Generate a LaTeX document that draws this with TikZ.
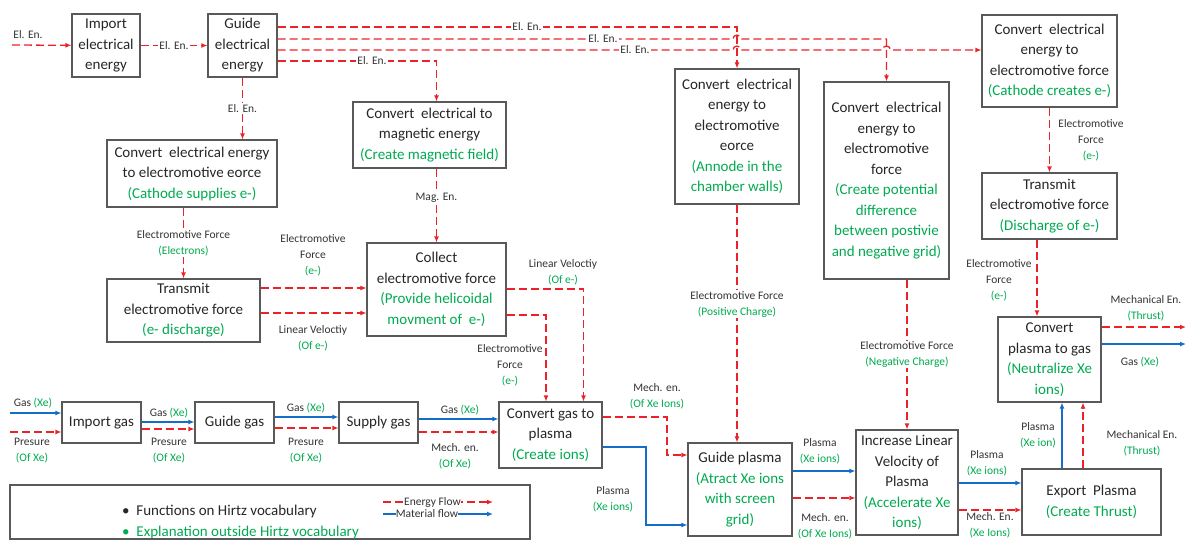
\documentclass[tikz,border=0pt]{standalone}
\usepackage{fontspec}
\setmainfont{Carlito}
\usepackage{tikz}
\usetikzlibrary{calc}
\usetikzlibrary{arrows.meta}

\definecolor{hred}{RGB}{235,35,40}
\definecolor{hblue}{RGB}{20,110,200}
\definecolor{hgreen}{RGB}{0,170,80}
\newcommand{\grn}[1]{\textcolor{hgreen}{#1}}

\tikzset{
  fbox/.style={draw=black!65, line width=1.1pt, align=center, inner sep=2pt, text=black!85, font=\fontsize{15}{20.5}\selectfont},
  enflow/.style={draw=hred, line width=1.3pt, dash pattern=on 8pt off 4pt, -{Latex[length=6pt,width=5pt]}},
  matflow/.style={draw=hblue, line width=1.3pt, -{Latex[length=6pt,width=5pt]}},
  lbl/.style={align=center, inner sep=1pt, text=black!80, font=\fontsize{11.5}{16}\selectfont},
}

\begin{document}
\begin{tikzpicture}[x=1pt,y=-1pt]

			% 固定画布大小
			\useasboundingbox (0,0) rectangle (1189,541);

			% 绘制功能框
			\node[fbox, minimum width=68, minimum height=63] (iee) at (106,45.5) {Import\\electrical\\energy};
			\node[fbox, minimum width=69, minimum height=63] (gee) at (242.5,45.5) {Guide\\electrical\\energy};
			\node[fbox, minimum width=170, minimum height=67] (cse) at (192,173.5) {Convert\ \ electrical energy\\to electromotive eorce\\\grn{(Cathode supplies e-)}};
			\node[fbox, minimum width=153, minimum height=63] (tef) at (183.5,310.5) {Transmit\\electromotive force\\\grn{(e- discharge)}};
			\node[fbox, minimum width=153, minimum height=66] (cme) at (429.5,135) {Convert\ \ electrical to\\magnetic energy\\\grn{(Create magnetic field)}};
			\node[fbox, minimum width=139, minimum height=93] (cef) at (436.5,289.5) {Collect\\electromotive force\\\grn{(Provide helicoidal}\\\grn{movment of\ \ e-)}};
			\node[fbox, minimum width=124, minimum height=135] (ane) at (737,136.5) {Convert\ \ electrical\\energy to\\electromotive\\eorce\\\grn{(Annode in the}\\\grn{chamber walls)}};
			\node[fbox, minimum width=125, minimum height=197] (cpd) at (886.5,180.5) {Convert\ \ electrical\\energy to\\electromotive\\force\\\grn{(Create potential}\\\grn{difference}\\\grn{between postivie}\\\grn{and negative grid)}};
			\node[fbox, minimum width=135, minimum height=92] (cce) at (1049.5,61) {Convert\ \ electrical\\energy to\\electromotive force\\\grn{(Cathode creates e-)}};
			\node[fbox, minimum width=135, minimum height=66] (tde) at (1049.5,206) {Transmit\\electromotive force\\\grn{(Discharge of e-)}};
			\node[fbox, minimum width=103, minimum height=85] (cpg) at (1049.5,359.5) {Convert\\plasma to gas\\\grn{(Neutralize Xe}\\\grn{ions)}};
			\node[fbox, minimum width=102, minimum height=105] (ilv) at (907,482.5) {Increase Linear\\Velocity of\\Plasma\\\grn{(Accelerate Xe}\\\grn{ions)}};
			\node[fbox, minimum width=139, minimum height=66] (exp) at (1091.5,502) {Export\ \ Plasma\\\grn{(Create Thrust)}};
			\node[fbox, minimum width=104, minimum height=93] (gpl) at (740,489.5) {Guide plasma\\\grn{(Atract Xe ions}\\\grn{with screen}\\\grn{grid)}};
			\node[fbox, minimum width=103, minimum height=66] (cgp) at (550.5,435) {Convert gas to\\plasma\\\grn{(Create ions)}};
			\node[fbox, minimum width=79, minimum height=41] (sgs) at (378.5,422.5) {Supply gas};
			\node[fbox, minimum width=79, minimum height=41] (ggs) at (234.5,422.5) {Guide gas};
			\node[fbox, minimum width=79, minimum height=41] (igs) at (101.5,422.5) {Import gas};

			% 辅助坐标
			\coordinate (src) at (12,45);
			\coordinate (ya) at (0,27);
			\coordinate (yb) at (0,39);
			\coordinate (yc) at (0,50);
			\coordinate (yd) at (0,61);
			\coordinate (ye) at (0,288);
			\coordinate (yf) at (0,313);
			\coordinate (yg) at (0,289);
			\coordinate (yh) at (0,315);
			\coordinate (k1) at (667,455);
			\coordinate (k2) at (646,525);
			\coordinate (o1) at (1186,327);
			\coordinate (o2) at (1186,344);
			\coordinate (g0b) at (10,413);
			\coordinate (g0r) at (10,432);

			% 电能连接线
			\draw[enflow] (src) -- (iee);
			\node[lbl] (l1) at (28,35) {El. En.};
			\draw[enflow] (iee) -- node[lbl,fill=white] (l2) {El. En.} (gee);
			\draw[enflow] (gee.east |- ya) -| (ane.north);
			\draw[enflow] (gee.east |- yb) -- ($(ane.north |- yb)+(-4,0)$) arc[start angle=180, end angle=360, radius=4] -- (cpd.north |- yb) -- (cpd.north);
			\draw[enflow] (gee.east |- yc) -- ($(ane.north |- yc)+(-4,0)$) arc[start angle=180, end angle=360, radius=4] -- ($(cpd.north |- yc)+(-4,0)$) arc[start angle=180, end angle=360, radius=4] -- (cce.west |- yc);
			\draw[enflow] (gee.east |- yd) -| ($(cme.north)+(7,0)$);
			\node[lbl,fill=white] (l3) at (527,27) {El. En.};
			\node[lbl,fill=white] (l4) at (603,39) {El. En.};
			\node[lbl,fill=white] (l5) at (635,50) {El. En.};
			\node[lbl,fill=white] (l6) at (372,61) {El. En.};
			\draw[enflow] (gee.south) -- node[lbl,fill=white] (l7) {El. En.} (gee.south |- cse.north);

			% 电动力连接线
			\draw[enflow] (tef.north |- cse.south) -- node[lbl,fill=white] (l8) {Electromotive Force\\\grn{(Electrons)}} (tef.north);
			\draw[enflow] ($(cme.south)+(7,0)$) -- node[lbl,fill=white,pos=.4] (l9) {Mag. En.} (cef.north);
			\draw[enflow] (tef.east |- ye) -- (cef.west |- ye);
			\draw[enflow] (tef.east |- yf) -- (cef.west |- yf);
			\node[lbl] (l10) at (313,255) {Electromotive\\Force\\\grn{(e-)}};
			\node[lbl] (l11) at (313,338) {Linear Veloctiy\\\grn{(Of e-)}};
			\draw[enflow] (cef.east |- yg) -| ($(cgp.north)+(33,0)$);
			\draw[enflow] (cef.east |- yh) -| ($(cgp.north)+(-4.5,0)$);
			\node[lbl] (l12) at (563,272) {Linear Veloctiy\\\grn{(Of e-)}};
			\node[lbl] (l13) at (510,365) {Electromotive\\Force\\\grn{(e-)}};
			\draw[enflow] (ane.south) -- node[lbl,fill=white,pos=.42] (l14) {Electromotive Force\\\grn{(Positive Charge)}} (ane.south |- gpl.north);
			\draw[enflow] (ilv.north |- cpd.south) -- node[lbl,fill=white] (l15) {Electromotive Force\\\grn{(Negative Charge)}} (ilv.north);
			\draw[enflow] (cce.south) -- (tde.north);
			\node[lbl] (l16) at (1091,140) {Electromotive\\Force\\\grn{(e-)}};
			\draw[enflow] ($(tde.south)+(-12.5,0)$) -- ($(cpg.north)+(-12.5,0)$);
			\node[lbl] (l17) at (999,280) {Electromotive\\Force\\\grn{(e-)}};

			% 气体连接线
			\draw[matflow] (g0b) -- (igs.west |- g0b);
			\draw[enflow] (g0r) -- (igs.west |- g0r);
			\node[lbl] (l18) at (33,403) {Gas \grn{(Xe)}};
			\node[lbl] (l19) at (32,451) {Presure\\\grn{(Of Xe)}};
			\draw[matflow] ($(igs.east)+(0,-0.5)$) -- ($(ggs.west)+(0,-0.5)$);
			\draw[enflow] ($(igs.east)+(0,6.5)$) -- ($(ggs.west)+(0,6.5)$);
			\node[lbl] (l20) at (169,413) {Gas \grn{(Xe)}};
			\node[lbl] (l21) at (169,451) {Presure\\\grn{(Of Xe)}};
			\draw[matflow] ($(ggs.east)+(0,-5.5)$) -- ($(sgs.west)+(0,-5.5)$);
			\draw[enflow] ($(ggs.east)+(0,5.5)$) -- ($(sgs.west)+(0,5.5)$);
			\node[lbl] (l22) at (306,408) {Gas \grn{(Xe)}};
			\node[lbl] (l23) at (306,451) {Presure\\\grn{(Of Xe)}};
			\draw[matflow] ($(sgs.east)+(0,-3.5)$) -- (cgp.west |- 0,419);
			\draw[enflow] ($(sgs.east)+(0,9.5)$) -- (cgp.west |- 0,432);
			\node[lbl] (l24) at (460,410) {Gas \grn{(Xe)}};
			\node[lbl] (l25) at (455,456) {Mech. en.\\\grn{(Of Xe)}};

			% 等离子体连接线
			\draw[enflow] (cgp.east |- 0,417) -| (k1) -- (gpl.west |- k1);
			\draw[matflow] (cgp.east |- 0,447) -| (k2) -- (gpl.west |- k2);
			\node[lbl] (l26) at (657,396) {Mech. en.\\\grn{(Of Xe Ions)}};
			\node[lbl] (l27) at (613,499) {Plasma\\\grn{(Xe ions)}};
			\draw[matflow] (gpl.east |- 0,471) -- (ilv.west |- 0,471);
			\draw[enflow] (gpl.east |- 0,498) -- (ilv.west |- 0,498);
			\node[lbl] (l28) at (820,451) {Plasma\\\grn{(Xe ions)}};
			\node[lbl] (l29) at (825,526) {Mech. en.\\\grn{(Of Xe Ions)}};
			\draw[matflow] (ilv.east |- 0,483) -- (exp.west |- 0,483);
			\draw[enflow] (ilv.east |- 0,510) -- (exp.west |- 0,510);
			\node[lbl] (l30) at (987,463) {Plasma\\\grn{(Xe ions)}};
			\node[lbl] (l31) at (990,525) {Mech. En.\\\grn{(Xe Ions)}};
			\draw[matflow] (exp.north -| 1062,0) -- (cpg.south -| 1062,0);
			\draw[enflow] (exp.north -| 1083,0) -- (cpg.south -| 1083,0);
			\node[lbl] (l32) at (1038,435) {Plasma\\\grn{(Xe ion)}};
			\node[lbl] (l33) at (1142,443) {Mechanical En.\\\grn{(Thrust)}};
			\draw[enflow] (cpg.east |- o1) -- (o1);
			\draw[matflow] (cpg.east |- o2) -- (o2);
			\node[lbl] (l34) at (1146,308) {Mechanical En.\\\grn{(Thrust)}};
			\node[lbl] (l35) at (1140,362) {Gas \grn{(Xe)}};

			% 图例
			\node[draw=black!65, line width=1.1pt, minimum width=520, minimum height=54] (leg) at (270,512) {};
			\node[anchor=west, align=left, inner sep=0pt, font=\fontsize{15}{21}\selectfont, text=black!85] (legtxt) at (122,522) {\textbullet\ \ Functions on Hirtz vocabulary\\\grn{\textbullet\ \ Explanation outside Hirtz vocabulary}};
			\coordinate (ea) at (383,502);
			\coordinate (eb) at (493,502);
			\coordinate (ma) at (383,514);
			\coordinate (mb) at (493,514);
			\draw[enflow] (ea) -- node[lbl,fill=white,pos=.45,inner sep=0pt] (l36) {Energy Flow} (eb);
			\draw[matflow] (ma) -- node[lbl,fill=white,pos=.4,inner sep=0pt] (l37) {Material flow} (mb);

		\end{tikzpicture}
\end{document}
